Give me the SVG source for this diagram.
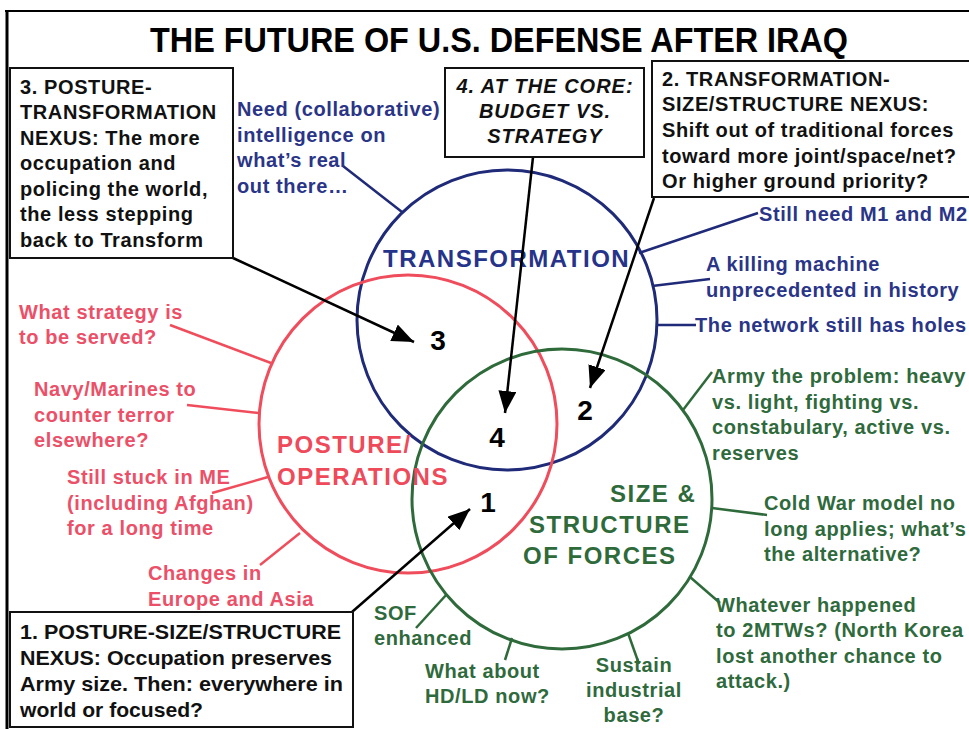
<svg xmlns="http://www.w3.org/2000/svg" width="969" height="729" viewBox="0 0 969 729">
<style>
text{font-family:"Liberation Sans",Arial,sans-serif;font-weight:bold}
.title{font-size:35px;fill:#000}
.bx{font-size:20px;fill:#111;letter-spacing:0.6px}
.bn{font-size:21px;fill:#111}
.bxi{font-size:20px;fill:#111;font-style:italic;letter-spacing:1px}
.box{fill:#fff;stroke:#111;stroke-width:2}
.bt{font-size:20px;fill:#2a3588;letter-spacing:0.6px}
.rt{font-size:20px;fill:#ec5068;letter-spacing:0.6px}
.gt{font-size:20px;fill:#2f6a3c;letter-spacing:0.6px}
.bl{font-size:24px;fill:#26338a;letter-spacing:1.5px}
.rl{font-size:24px;fill:#ee4a5a;letter-spacing:1.5px}
.gl{font-size:24px;fill:#2e6a3a;letter-spacing:1.5px}
.num{font-size:28px;fill:#000}
.cb{fill:none;stroke:#1f2a78;stroke-width:3}
.cr{fill:none;stroke:#f04d5c;stroke-width:3}
.cg{fill:none;stroke:#2e6a3a;stroke-width:3}
.lb{stroke:#1f2a78;stroke-width:2.5;fill:none}
.lr{stroke:#f04d5c;stroke-width:2.5;fill:none}
.lg{stroke:#2e6a3a;stroke-width:2.5;fill:none}
.arr{stroke:#000;stroke-width:2.5;fill:none;marker-end:url(#ah)}
</style>
<defs>
<marker id="ah" markerUnits="userSpaceOnUse" markerWidth="24" markerHeight="20" refX="22" refY="9" orient="auto">
<path d="M0,0 L22,9 L0,18 Z" fill="#000"/>
</marker>
</defs>
<rect width="969" height="729" fill="#fff"/>
<g id="frame">
<line x1="7" y1="10" x2="7" y2="729" stroke="#000" stroke-width="3"/>
<line x1="5" y1="11" x2="969" y2="11" stroke="#000" stroke-width="2"/>
</g>
<g id="title"><text class="title" x="499" y="52" text-anchor="middle" textLength="698" lengthAdjust="spacingAndGlyphs">THE FUTURE OF U.S. DEFENSE AFTER IRAQ</text></g>

<g id="circle-transformation">
<circle class="cb" cx="507" cy="320" r="150"/>
</g>
<g id="circle-posture">
<circle class="cr" cx="408" cy="424" r="149"/>
</g>
<g id="circle-size">
<circle class="cg" cx="562" cy="499" r="150"/>
</g>
<g id="label-transformation"><text class="bl" x="383" y="267">TRANSFORMATION</text></g>
<g id="label-posture"><text class="rl" x="277" y="453">POSTURE/<tspan x="277" y="485">OPERATIONS</tspan></text></g>
<g id="label-size"><text class="gl" x="610" y="502">SIZE &amp;<tspan x="529" y="533">STRUCTURE</tspan><tspan x="523" y="564">OF FORCES</tspan></text></g>

<g id="connectors">
<line class="arr" x1="233" y1="258" x2="414" y2="342"/>
<line class="arr" x1="533" y1="157" x2="505" y2="413"/>
<line class="arr" x1="654" y1="198" x2="590" y2="388"/>
<line class="arr" x1="352" y1="612" x2="470" y2="509"/>
<line class="lb" x1="343" y1="166" x2="402" y2="212"/>
<line class="lb" x1="639" y1="253" x2="758" y2="213"/>
<line class="lb" x1="652" y1="286" x2="710" y2="279"/>
<line class="lb" x1="656" y1="325" x2="696" y2="325"/>
<line class="lr" x1="170" y1="325" x2="271" y2="363"/>
<line class="lr" x1="187" y1="405" x2="259" y2="413"/>
<line class="lr" x1="212" y1="493" x2="268" y2="477"/>
<line class="lr" x1="260" y1="565" x2="300" y2="533"/>
<line class="lg" x1="683" y1="410" x2="712" y2="372"/>
<line class="lg" x1="712" y1="508" x2="767" y2="515"/>
<line class="lg" x1="690" y1="577" x2="720" y2="603"/>
<line class="lg" x1="416" y1="628" x2="447" y2="594"/>
<line class="lg" x1="505" y1="660" x2="512" y2="638"/>
<line class="lg" x1="639" y1="664" x2="628" y2="633"/>
</g>

<g id="box3">
<rect class="box" x="10" y="68" width="223" height="190"/>
<text class="bx" x="20" y="94">3. POSTURE-<tspan x="20" y="119">TRANSFORMATION</tspan><tspan x="20" y="145">NEXUS: The more</tspan><tspan x="20" y="170">occupation and</tspan><tspan x="20" y="196">policing the world,</tspan><tspan x="20" y="221">the less stepping</tspan><tspan x="20" y="247">back to Transform</tspan></text>
</g>
<g id="box4">
<rect class="box" x="445" y="68" width="199" height="89"/>
<text class="bxi" x="545" y="93" text-anchor="middle">4. AT THE CORE:<tspan x="545" y="118">BUDGET VS.</tspan><tspan x="545" y="143">STRATEGY</tspan></text>
</g>
<g id="box2">
<rect class="box" x="652" y="61" width="330" height="136"/>
<text class="bx" x="662" y="86">2. TRANSFORMATION-<tspan x="662" y="111">SIZE/STRUCTURE NEXUS:</tspan><tspan x="662" y="137">Shift out of traditional forces</tspan><tspan x="662" y="163">toward more joint/space/net?</tspan><tspan x="662" y="188">Or higher ground priority?</tspan></text>
</g>
<g id="box1">
<rect class="box" x="10" y="612" width="343" height="115"/>
<text class="bn" x="20" y="639" textLength="321" lengthAdjust="spacingAndGlyphs">1. POSTURE-SIZE/STRUCTURE</text>
<text class="bn" x="20" y="665" textLength="312" lengthAdjust="spacingAndGlyphs">NEXUS: Occupation preserves</text>
<text class="bn" x="20" y="691" textLength="323" lengthAdjust="spacingAndGlyphs">Army size. Then: everywhere in</text>
<text class="bn" x="20" y="717" textLength="183" lengthAdjust="spacingAndGlyphs">world or focused?</text>
</g>

<g id="num3"><text class="num" x="438" y="350" text-anchor="middle">3</text></g>
<g id="num4"><text class="num" x="497" y="447" text-anchor="middle">4</text></g>
<g id="num2"><text class="num" x="585" y="420" text-anchor="middle">2</text></g>
<g id="num1"><text class="num" x="488" y="512" text-anchor="middle">1</text></g>

<g id="note-intel"><text class="bt" x="237" y="116">Need (collaborative)<tspan x="237" y="142">intelligence on</tspan><tspan x="237" y="167">what’s real</tspan><tspan x="237" y="193">out there…</tspan></text></g>
<g id="note-m1m2"><text class="bt" x="759" y="221">Still need M1 and M2</text></g>
<g id="note-killing"><text class="bt" x="706" y="271">A killing machine<tspan x="706" y="297">unprecedented in history</tspan></text></g>
<g id="note-network"><text class="bt" x="695" y="332">The network still has holes</text></g>

<g id="note-strategy"><text class="rt" x="19" y="319">What strategy is<tspan x="19" y="344">to be served?</tspan></text></g>
<g id="note-navy"><text class="rt" x="34" y="396">Navy/Marines to<tspan x="34" y="422">counter terror</tspan><tspan x="34" y="447">elsewhere?</tspan></text></g>
<g id="note-me"><text class="rt" x="67" y="484">Still stuck in ME<tspan x="67" y="510">(including Afghan)</tspan><tspan x="67" y="535">for a long time</tspan></text></g>
<g id="note-europe"><text class="rt" x="148" y="580">Changes in<tspan x="148" y="606">Europe and Asia</tspan></text></g>

<g id="note-army"><text class="gt" x="712" y="383">Army the problem: heavy<tspan x="712" y="409">vs. light, fighting vs.</tspan><tspan x="712" y="434">constabulary, active vs.</tspan><tspan x="712" y="460">reserves</tspan></text></g>
<g id="note-coldwar"><text class="gt" x="764" y="510">Cold War model no<tspan x="764" y="536">long applies; what’s</tspan><tspan x="764" y="561">the alternative?</tspan></text></g>
<g id="note-2mtw"><text class="gt" x="716" y="612">Whatever happened<tspan x="716" y="637">to 2MTWs? (North Korea</tspan><tspan x="716" y="663">lost another chance to</tspan><tspan x="716" y="688">attack.)</tspan></text></g>
<g id="note-sof"><text class="gt" x="374" y="620">SOF<tspan x="374" y="645">enhanced</tspan></text></g>
<g id="note-hdld"><text class="gt" x="425" y="678">What about<tspan x="425" y="703">HD/LD now?</tspan></text></g>
<g id="note-sustain"><text class="gt" x="634" y="672" text-anchor="middle">Sustain<tspan x="634" y="697">industrial</tspan><tspan x="634" y="722">base?</tspan></text></g>
</svg>
